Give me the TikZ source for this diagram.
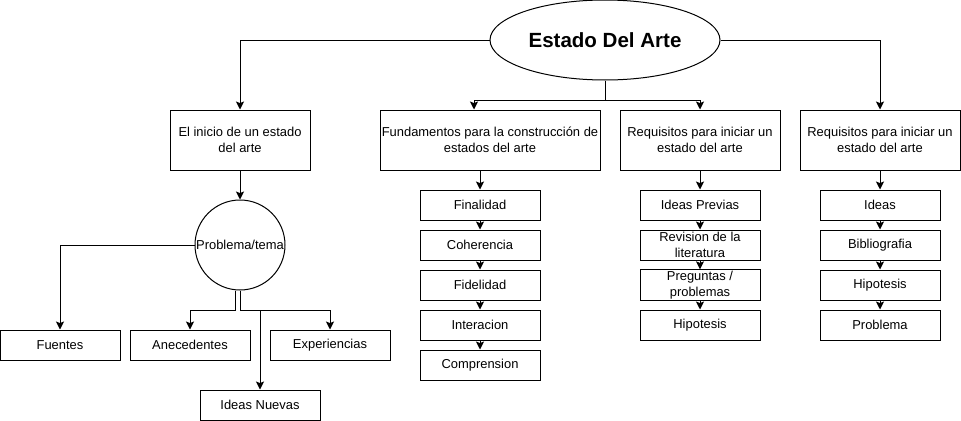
\documentclass[tikz,border=0pt]{standalone}
\usepackage{fontspec}
\setmainfont{Liberation Sans}
\usepackage{tikz}
\usetikzlibrary{shapes,arrows.meta,positioning,calc}

\begin{document}
\begin{tikzpicture}[x=0.75pt, y=-0.75pt,
        box/.style={draw, line width=0.75pt, align=center, inner sep=1pt,
            font=\fontsize{9.7pt}{11.7pt}\selectfont},
        bigbox/.style={box, minimum width=120pt, minimum height=45pt},
        smallbox/.style={box, minimum width=90pt, minimum height=22.5pt},
        arr/.style={-{Stealth[length=6pt, width=6pt, inset=1.2pt]}, line width=0.75pt},
        link/.style={line width=0.75pt}]
        \useasboundingbox (0,0) rectangle (961,421);

        % Title
        \node[ellipse, draw, line width=0.75pt, minimum width=172.5pt, minimum height=60pt,
            inner sep=0pt, font=\fontsize{15.4pt}{18pt}\selectfont\bfseries] (arte) at (605,40) {Estado Del Arte};

        % First row
        \node[bigbox, minimum width=105pt] (inicio) at (240,140) {El inicio de un estado\\del arte};
        \node[bigbox, minimum width=165pt] (fund) at (490,140) {Fundamentos para la construcción de\\estados del arte};
        \node[bigbox] (req) at (700,140) {Requisitos para iniciar un\\estado del arte};
        \node[bigbox] (reqb) at (880,140) {Requisitos para iniciar un\\estado del arte};

        \draw[arr] (arte.west) -| (inicio.north);
        \draw[arr] (arte.east) -| (reqb.north);
        \draw[link] (arte.south) -- ++(0,20) coordinate (split);
        \draw[arr] (split) -| ([shift={(-16,0)}]fund.north);
        \draw[arr] (split) -| (req.north);

        % Problema/tema branch
        \node[circle, draw, line width=0.75pt, minimum size=67.5pt, inner sep=0pt,
            font=\fontsize{9.7pt}{11.7pt}\selectfont] (tema) at (240,245) {Problema/tema};
        \draw[arr] (inicio) -- (tema);
        \node[smallbox] (fuentes) at (60,345) {Fuentes};
        \node[smallbox] (antec) at (190,345) {Anecedentes};
        \node[smallbox] (exper) at (330,345) {Experiencias};
        \node[smallbox] (nuevas) at (260,405) {Ideas Nuevas};
        \draw[arr] (tema.west) -| (fuentes.north);
        \draw[arr] ([shift={(-5,0)}]tema.south) -- ++(0,20) -| (antec.north);
        \draw[arr] (tema.south) -- ++(0,20) -| (exper.north);
        \draw[arr] ([shift={(20,20)}]tema.south) -- (nuevas.north);

        % Fundamentos column
        \foreach \t [count=\i] in {Finalidad,Coherencia,Fidelidad,Interacion,Comprension} {
            \node[smallbox] (f\i) at (480,165+40*\i) {\t};
        }
        \draw[arr] (fund.south -| f1) -- (f1);
        \foreach \i/\j in {1/2,2/3,3/4,4/5} {
            \draw[arr] (f\i) -- (f\j);
        }

        % Requisitos column
        \foreach \t [count=\i] in {Ideas Previas,{Revision de la\\literatura},{Preguntas /\\problemas},Hipotesis} {
            \node[smallbox] (r\i) at (700,165+40*\i) {\t};
        }
        \draw[arr] (req) -- (r1);
        \foreach \i/\j in {1/2,2/3,3/4} {
            \draw[arr] (r\i) -- (r\j);
        }

        % Second requisitos column
        \foreach \t [count=\i] in {Ideas,Bibliografia,Hipotesis,Problema} {
            \node[smallbox] (q\i) at (880,165+40*\i) {\t};
        }
        \draw[arr] (reqb) -- (q1);
        \foreach \i/\j in {1/2,2/3,3/4} {
            \draw[arr] (q\i) -- (q\j);
        }
    \end{tikzpicture}
\end{document}
